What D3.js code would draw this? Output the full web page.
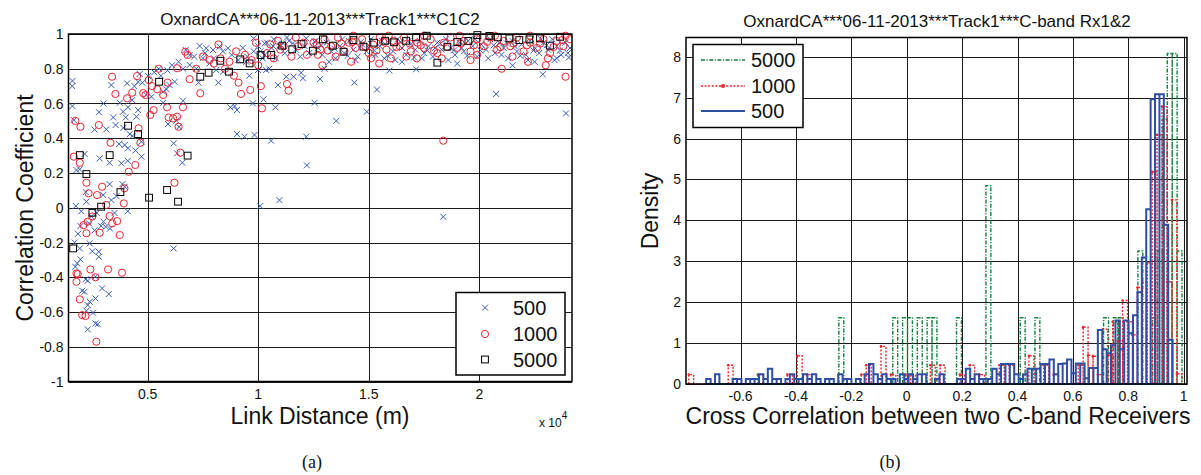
<!DOCTYPE html>
<html>
<head>
<meta charset="utf-8">
<script src="https://cdn.jsdelivr.net/npm/d3@7"></script>
<style>
  body { margin: 0; background: #fff; }
  svg { display: block; }
  text { font-family: "Liberation Sans", Arial, sans-serif; fill: #111; }
</style>
</head>
<body>
<svg id="fig" width="1201" height="475"></svg>
<script>
'use strict';

// ---- panel (a) data: [link distance (m), correlation coefficient]
var corr500 = [
  [1600,0.73],[1590,0.70],[1600,0.585],[1660,0.505],[1780,0.217],[1930,0.221],[1750,0.01],[2230,0.035],
  [1960,-0.105],[2350,-0.09],[2600,-0.13],[2900,-0.105],[3100,-0.11],[1930,-0.234],[1810,-0.32],[1730,-0.34],
  [1960,-0.297],[2380,-0.205],[2790,-0.253],[2790,-0.282],[2190,-0.412],[2290,-0.42],[2640,-0.397],[2040,-0.478],
  [2140,-0.484],[2940,-0.464],[3240,-0.497],[2640,-0.522],[2380,-0.541],[2290,-0.56],[2230,-0.593],[2530,-0.604],
  [2640,-0.666],[2740,-0.67],[2290,-0.70],[6175,-0.234],
  [3130,0.451],[2830,0.284],[3280,0.259],[3360,0.706],[3440,0.52],[3550,0.476],[3740,0.604],[3710,0.367],
  [3890,0.553],[4010,0.52],[4110,0.578],[4070,0.716],[3960,0.361],[4110,0.342],[3810,0.256],[3280,0.136],
  [2990,0.073],[3360,0.044],[3860,0.136],[3960,0.121],[3590,0.067],[4190,0.424],[4310,0.413],[4570,0.562],
  [4490,0.524],[4720,0.294],[4720,0.38],[4570,0.725],[4760,0.72],[4940,0.649],[5170,0.639],[4640,0.77],[5020,0.758],
  [2000,-0.02],[2450,-0.05],[2700,-0.03],[3000,-0.08],[2200,0.09],[3500,-0.03],[1700,-0.2],[1850,-0.15],
  [2500,-0.25],[3300,-0.12],[4100,-0.02],[2150,0.31],[2800,0.55],[3000,0.6],[2600,0.45],[3900,0.46],
  [4300,0.62],[4400,0.7],[4450,0.33],[4100,0.27],
  [5700,0.668],[5850,0.682],[5700,0.604],[5920,0.482],[6300,0.501],[6420,0.466],[6175,0.371],[6330,0.313],
  [6570,0.259],[6600,0.616],[6220,0.725],[5990,0.706],[6900,0.822],[6720,0.908],[6900,0.879],[7350,0.931],
  [7650,0.918],[7960,0.908],[8250,0.927],[8630,0.918],[7500,0.86],[7800,0.831],[8100,0.793],[8410,0.783],
  [8740,0.578],[8930,0.585],[9040,0.562],[9040,0.424],[9380,0.409],[9830,0.419],[9760,0.601],[10240,0.624],
  [10780,0.578],[10580,0.386],[10090,0.01],[10960,0.044],[12170,0.409],[12200,0.244],[12550,0.604],
  [5300,0.78],[5500,0.8],[5600,0.76],[5900,0.79],[6100,0.82],[6400,0.84],[6600,0.80],[7100,0.87],
  [7200,0.80],[7600,0.89],[8000,0.86],[8400,0.90],[8800,0.88],[9100,0.85],[9300,0.92],[9500,0.87],
  [9800,0.90],[10200,0.86],[7300,0.72],[8200,0.72],[9600,0.76],[10500,0.80],[10000,0.93],[10400,0.95],
  [9790,0.975],[10290,0.946],[10665,0.931],[11120,0.946],[11570,0.946],[12170,0.975],[12545,0.956],
  [10890,0.706],[11270,0.754],[11600,0.754],[12020,0.745],[11940,0.777],[10360,0.793],[9990,0.793],[9460,0.84],
  [12800,0.741],[14350,0.72],[15370,0.68],[14910,0.553],[13530,0.5],[15930,0.79],[17140,0.797],[20760,0.655],
  [22870,0.768],[23920,0.543],[18370,-0.052],[21500,0.82],[19000,0.83],[16500,0.84],[13000,0.80],[22500,0.84],
  [23500,0.86],
  [12700,0.92],[12900,0.88],[13100,0.95],[13300,0.90],[13500,0.86],[13700,0.93],[13900,0.89],[14100,0.96],
  [14300,0.91],[14500,0.87],[14700,0.94],[14900,0.90],[15100,0.97],[15300,0.88],[15500,0.93],[15700,0.86],
  [15900,0.95],[16100,0.90],[16300,0.97],[16500,0.92],[16700,0.88],[16900,0.94],[17100,0.91],[17300,0.96],
  [17500,0.89],[17700,0.93],[17900,0.87],[18100,0.95],[18300,0.91],[18500,0.97],[18700,0.92],[18900,0.88],
  [19100,0.95],[19300,0.90],[19500,0.96],[19700,0.93],[19900,0.87],[20100,0.94],[20300,0.91],[20500,0.97],
  [20700,0.89],[20900,0.95],[21100,0.92],[21300,0.86],[21500,0.96],[21700,0.90],[21900,0.94],[22100,0.88],
  [22300,0.96],[22500,0.92],[22700,0.89],[22900,0.95],[23100,0.91],[23300,0.97],[23500,0.93],[23700,0.88],
  [23900,0.95],[24100,0.92],
  [12600,0.96],[13200,0.84],[13800,0.97],[14400,0.85],[15000,0.92],[15600,0.96],[16200,0.85],[16800,0.96],
  [17400,0.86],[18000,0.92],[18600,0.85],[19200,0.92],[19800,0.97],[20400,0.86],[21000,0.88],[21600,0.93],
  [22200,0.85],[22800,0.97],[23400,0.85],[24000,0.89],
  [10100,0.90],[10300,0.88],[10600,0.92],[10800,0.86],[11000,0.93],[11200,0.89],[11400,0.96],[11700,0.91],
  [11900,0.87],[12100,0.93],[12300,0.89],[10700,0.97],[11300,0.98],
  [12850,0.935],[13450,0.915],[14050,0.875],[14650,0.955],[15250,0.905],[15850,0.875],[16450,0.955],[17050,0.865],
  [17650,0.905],[18250,0.945],[18850,0.905],[19450,0.875],[20050,0.905],[20650,0.935],[21250,0.945],[21850,0.875],
  [22450,0.905],[23050,0.935],[23650,0.905],[24050,0.865]
];

var corr1000 = [
  [1660,0.294],[1730,0.50],[1960,0.466],[1930,0.259],[2230,0.144],[2330,0.083],[2290,-0.08],[2790,0.476],
  [2710,0.073],[2940,0.121],[3130,0.016],[3280,-0.048],[3320,0.374],[3390,0.754],[3540,0.655],[3620,-0.077],
  [3950,0.112],[3920,0.025],[4070,0.63],[4140,0.207],[4440,0.246],[4300,0.662],[4520,0.758],[4590,0.457],
  [4670,0.374],[4900,0.649],[5050,0.735],[5120,0.534],[5270,0.562],[5430,0.682],[5700,0.649],[5880,0.578],
  [5950,0.52],[6150,0.515],[6330,0.524],[6400,0.466],[6600,0.578],[6480,0.317],[6210,0.144],[6330,0.803],
  [6700,0.898],[6810,0.879],[7380,0.659],
  [2230,-0.147],[2830,-0.144],[3740,-0.157],[2410,-0.355],[3210,-0.355],[3840,-0.374],[2640,-0.40],
  [1780,-0.378],[1840,-0.382],[1780,-0.426],[1930,-0.527],[2040,-0.618],[2190,-0.623],[2680,-0.771],
  [2100,-0.10],[2500,-0.05],[3400,-0.09],
  [7500,0.87],[7800,0.85],[8000,0.83],[8300,0.86],[8500,0.80],[8700,0.84],[8900,0.76],[9110,0.72],
  [9220,0.655],[9640,0.678],[10120,0.70],[10170,0.572],[11300,0.712],[11370,0.674],[9000,0.90],[9400,0.88],
  [9700,0.85],[10000,0.82],[10400,0.89],[10700,0.86],[11000,0.91],[11500,0.87],[11800,0.93],[12200,0.88],
  [7200,0.80],[6900,0.74],[5900,0.72],[5500,0.80],[5200,0.70],[4800,0.66],[8200,0.94],[9900,0.95],
  [10900,0.96],[11700,0.98],
  [21010,0.80],[23900,0.754],[17170,0.86],[15470,0.83],[18370,0.386],[12900,0.82],[14200,0.84],[16000,0.86],
  [19600,0.85],[22200,0.84],[23000,0.82],
  [12500,0.95],[12800,0.91],[13000,0.97],[13300,0.93],[13600,0.98],[13900,0.90],[14100,0.95],[14400,0.92],
  [14700,0.97],[15000,0.89],[15200,0.94],[15500,0.98],[15800,0.91],[16100,0.96],[16400,0.93],[16600,0.98],
  [16900,0.90],[17200,0.95],[17500,0.92],[17800,0.97],[18100,0.89],[18400,0.95],[18700,0.98],[19000,0.92],
  [19300,0.96],[19600,0.90],[19900,0.97],[20200,0.93],[20500,0.98],[20800,0.91],[21100,0.96],[21400,0.93],
  [21700,0.98],[22000,0.90],[22300,0.95],[22600,0.92],[22900,0.97],[23200,0.89],[23500,0.96],[23800,0.93],
  [24100,0.97],
  [12700,0.88],[13500,0.87],[14300,0.99],[15100,0.86],[15900,0.99],[16700,0.87],[17500,0.99],[18300,0.86],
  [19100,0.99],[19900,0.88],[20700,0.99],[21500,0.87],[22300,0.99],[23100,0.86],[23900,0.99],
  [12650,0.935],[13150,0.905],[13750,0.945],[14250,0.955],[14850,0.925],[15350,0.905],[15650,0.955],[16250,0.925],
  [16850,0.945],[17350,0.935],[17950,0.905],[18550,0.925],[19150,0.945],[19750,0.935],[20350,0.955],[20950,0.925],
  [21550,0.945],[22150,0.935],[22750,0.945],[23350,0.925],[23750,0.965],[10550,0.94],[11150,0.93],[12050,0.95]
];

var corr5000 = [
  [1630,-0.234],[1930,0.303],[2230,0.194],[2500,-0.029],[2895,0.006],[3283,0.303],[3767,0.09],[4114,0.472],
  [4566,0.424],[5063,0.058],[5877,0.102],[6373,0.035],[6807,0.30],[5515,0.725],[7381,0.754],[7756,0.777],
  [8678,0.783],[8285,0.846],[9188,0.854],[9609,0.831],[10106,0.879],[10589,0.879],[11086,0.933],[11538,0.912],
  [11958,0.942],[12473,0.904],[12925,0.969],[13377,0.933],[13856,0.898],[14307,0.965],[14759,0.927],[15243,0.95],
  [15740,0.961],[16146,0.952],[16688,0.961],[17140,0.981],[17623,0.99],[18102,0.835],[18554,0.927],[19006,0.954],
  [19503,0.96],[19910,0.994],[20452,0.989],[20832,0.981],[21356,0.975],[21808,0.965],[22260,0.969],[22744,0.975],
  [23194,0.933],[23648,0.984]
];

var distTicks = [5000, 10000, 15000, 20000];
var distTickLabels = ['0.5', '1', '1.5', '2'];
var corrTicks = [-1, -0.8, -0.6, -0.4, -0.2, 0, 0.2, 0.4, 0.6, 0.8, 1];

// ---- panel (b) data: histogram densities, one value per bin
var bins500 = { start: -0.724, width: 0.015888 };
var density500 = [
  0.12,0,0.24,0,0,0,0.12,0.12,0,0.12,
  0.12,0.12,0.24,0.12,0.37,0.12,0.12,0,0.12,0.24,
  0.12,0.12,0.24,0.12,0.24,0.12,0,0.12,0.12,0,
  0.24,0.12,0.12,0,0.12,0,0.24,0.49,0.24,0.12,
  0.24,0.12,0.12,0,0.24,0.12,0.24,0.12,0.24,0.24,
  0,0,0.12,0.24,0,0,0,0.12,0.12,0.37,
  0.12,0.24,0.12,0.12,0.12,0.37,0.24,0.49,0.49,0.49,
  0.24,0.12,0.24,0.37,0.37,0.37,0.49,0.49,0.6,0.24,
  0.49,0.5,0.6,0.26,0.5,0.5,0.14,0.39,0.39,1.32,
  0.85,0.75,0.95,1.55,0.85,1.55,1.24,1.68,2.24,3.09,
  4.27,6.96,7.08,7.08,3.89,1.08,0
];

var bins1000 = { start: -0.787, width: 0.0178 };
var density1000 = [
  0.23,0,0,0,0,0,0,0,0.46,0,
  0,0,0,0,0.23,0,0,0,0,0,
  0.23,0,0.69,0,0.23,0,0,0,0,0,
  0,0,0,0,0,0.23,0.46,0,0,0.92,
  0,0.23,0,0,0.23,0.23,0,0,0,0.46,
  0,0.46,0,0,0,0.23,0,0.46,0,0.23,
  0,0,0,0.46,0,0.46,0,0,0,0.69,
  0,0,0.46,0,0.23,0,0,0,0,0.46,
  1.39,0.7,0.68,0.23,1.34,0.7,1.52,1.05,2.04,1.52,
  1.2,2.36,2.48,2.96,5.19,6.09,6.78,2.5,4.5,0.25
];

var bins5000 = { start: -0.245, width: 0.0177 };
var density5000 = [
  1.62,0,0,0,0,0,0,0,0,0,
  0,1.62,0,1.62,1.62,0,1.62,0,1.62,1.62,
  0,0,0,0,1.62,0,0,0,0,0,
  4.85,0,0,0,0,0,0,1.62,0,0,
  1.62,0,0,0,0,0,0,0,0,0,
  0,0,0,0,1.62,0,1.62,1.62,0,0,
  0,3.25,0,0,1.62,3.25,6.47,8.08,8.08,3.25
];

var ccTicks = [-0.6, -0.4, -0.2, 0, 0.2, 0.4, 0.6, 0.8, 1];
var densityTicks = [0, 1, 2, 3, 4, 5, 6, 7, 8];

// ---- drawing
var svg = d3.select('#fig');
var gridColor = '#1a1a1a';
var fmt = function(d) { return String(d); };

function drawFrame(g, x, y, xTicks, yTicks, xLabels) {
  var x0 = x.range()[0], x1 = x.range()[1];
  var y0 = y.range()[0], y1 = y.range()[1];
  // grid lines
  g.append('g').selectAll('line.gx').data(xTicks).enter().append('line')
    .attr('x1', function(d) { return Math.round(x(d)) + 0.5; })
    .attr('x2', function(d) { return Math.round(x(d)) + 0.5; })
    .attr('y1', y0).attr('y2', y1)
    .attr('stroke', gridColor).attr('stroke-width', 1);
  g.append('g').selectAll('line.gy').data(yTicks).enter().append('line')
    .attr('y1', function(d) { return Math.round(y(d)) + 0.5; })
    .attr('y2', function(d) { return Math.round(y(d)) + 0.5; })
    .attr('x1', x0).attr('x2', x1)
    .attr('stroke', gridColor).attr('stroke-width', 1);
  // tick labels
  g.append('g').selectAll('text').data(xTicks).enter().append('text')
    .attr('x', function(d) { return x(d); })
    .attr('y', y0 + 17)
    .attr('text-anchor', 'middle')
    .style('font-size', '14px')
    .text(function(d, i) { return xLabels ? xLabels[i] : fmt(d); });
  g.append('g').selectAll('text').data(yTicks).enter().append('text')
    .attr('x', x0 - 5)
    .attr('y', function(d) { return y(d) + 5; })
    .attr('text-anchor', 'end')
    .style('font-size', '14px')
    .text(fmt);
}

function drawBox(g, x, y) {
  g.append('rect')
    .attr('x', x.range()[0]).attr('y', y.range()[1])
    .attr('width', x.range()[1] - x.range()[0])
    .attr('height', y.range()[0] - y.range()[1])
    .attr('fill', 'none').attr('stroke', '#000').attr('stroke-width', 1.5);
}

// ================= panel (a)
var ga = svg.append('g');
var xA = d3.scaleLinear().domain([1420, 24190]).range([68.5, 572]);
var yA = d3.scaleLinear().domain([-1, 1]).range([381.5, 34]);

drawFrame(ga, xA, yA, distTicks, corrTicks, distTickLabels);

ga.append('clipPath').attr('id', 'clipA').append('rect')
  .attr('x', 68.5).attr('y', 30).attr('width', 503.5).attr('height', 352);
var plotA = ga.append('g').attr('clip-path', 'url(#clipA)');

var blue = '#3a5bb4', red = '#ee2530';

plotA.append('g').selectAll('path').data(corr500).enter().append('path')
  .attr('transform', function(d) { return 'translate(' + xA(d[0]) + ',' + yA(d[1]) + ')'; })
  .attr('d', 'M-3,-3L3,3M-3,3L3,-3')
  .attr('stroke', blue).attr('stroke-width', 1).attr('fill', 'none');

plotA.append('g').selectAll('circle').data(corr1000).enter().append('circle')
  .attr('cx', function(d) { return xA(d[0]); })
  .attr('cy', function(d) { return yA(d[1]); })
  .attr('r', 3.6)
  .attr('stroke', red).attr('stroke-width', 1).attr('fill', 'none');

plotA.append('g').selectAll('rect').data(corr5000).enter().append('rect')
  .attr('x', function(d) { return xA(d[0]) - 3.4; })
  .attr('y', function(d) { return yA(d[1]) - 3.4; })
  .attr('width', 6.8).attr('height', 6.8)
  .attr('stroke', '#000').attr('stroke-width', 1).attr('fill', 'none');

drawBox(ga, xA, yA);

ga.append('text').attr('x', 320).attr('y', 25).attr('text-anchor', 'middle')
  .style('font-size', '17px').text('OxnardCA***06-11-2013***Track1***C1C2');
ga.append('text').attr('x', 320).attr('y', 424).attr('text-anchor', 'middle')
  .style('font-size', '23px').text('Link Distance (m)');
ga.append('text').attr('transform', 'translate(33,208) rotate(-90)').attr('text-anchor', 'middle')
  .style('font-size', '23px').text('Correlation Coefficient');
var expo = ga.append('text').attr('x', 539).attr('y', 427).style('font-size', '12px');
expo.append('tspan').text('x 10');
expo.append('tspan').attr('dy', -8).style('font-size', '10px').text('4');

// legend (a)
var legA = ga.append('g');
legA.append('rect').attr('x', 456).attr('y', 292.5).attr('width', 109).attr('height', 82.5)
  .attr('fill', '#fff').attr('stroke', '#000').attr('stroke-width', 1.5);
var legARows = [
  { label: '500', y: 307.7 },
  { label: '1000', y: 334 },
  { label: '5000', y: 359.5 }
];
legA.append('path').attr('transform', 'translate(485,' + legARows[0].y + ')')
  .attr('d', 'M-3,-3L3,3M-3,3L3,-3').attr('stroke', blue).attr('fill', 'none');
legA.append('circle').attr('cx', 485).attr('cy', legARows[1].y).attr('r', 3.6)
  .attr('stroke', red).attr('fill', 'none');
legA.append('rect').attr('x', 485 - 3.4).attr('y', legARows[2].y - 3.4).attr('width', 6.8).attr('height', 6.8)
  .attr('stroke', '#000').attr('fill', 'none');
legA.selectAll('text').data(legARows).enter().append('text')
  .attr('x', 513).attr('y', function(d) { return d.y + 7; })
  .style('font-size', '20px').text(function(d) { return d.label; });

svg.append('text').attr('x', 312).attr('y', 468).attr('text-anchor', 'middle')
  .style('font-family', '"Liberation Serif", "Times New Roman", serif').style('font-size', '18px')
  .text('(a)');

// ================= panel (b)
var gb = svg.append('g');
var xB = d3.scaleLinear().domain([-0.797, 1.012]).range([686, 1187]);
var yB = d3.scaleLinear().domain([0, 8.47]).range([384, 37.5]);

drawFrame(gb, xB, yB, ccTicks, densityTicks, null);

function histPath(bins, vals) {
  var base = yB(0);
  var p = '';
  vals.forEach(function(v, i) {
    var a = xB(bins.start + i * bins.width), b = xB(bins.start + (i + 1) * bins.width);
    if (v > 0) p += 'M' + a + ',' + base + 'V' + yB(v) + 'H' + b + 'V' + base;
  });
  p += 'M' + xB(bins.start) + ',' + base + 'H' + xB(bins.start + vals.length * bins.width);
  return p;
}

var green = '#13803c', histBlue = '#2f4fa6', histRed = '#f0242c';

gb.append('path').attr('d', histPath(bins5000, density5000))
  .attr('fill', 'none').attr('stroke', green).attr('stroke-width', 1.4)
  .attr('stroke-dasharray', '4,1.5,1.2,1.5');
gb.append('path').attr('d', histPath(bins1000, density1000))
  .attr('fill', 'none').attr('stroke', histRed).attr('stroke-width', 1.4)
  .attr('stroke-dasharray', '2,1.6');
gb.append('g').selectAll('circle').data(density1000.map(function(v, i) { return [i, v]; })
    .filter(function(d) { return d[1] > 0; }))
  .enter().append('circle')
  .attr('cx', function(d) { return xB(bins1000.start + d[0] * bins1000.width); })
  .attr('cy', function(d) { return yB(d[1]); })
  .attr('r', 1.3).attr('fill', histRed);
gb.append('path').attr('d', histPath(bins500, density500))
  .attr('fill', 'none').attr('stroke', histBlue).attr('stroke-width', 2);

drawBox(gb, xB, yB);

gb.append('text').attr('x', 937).attr('y', 26.5).attr('text-anchor', 'middle')
  .style('font-size', '17px').text('OxnardCA***06-11-2013***Track1***C-band Rx1&2');
gb.append('text').attr('x', 938).attr('y', 424).attr('text-anchor', 'middle')
  .style('font-size', '23px').text('Cross Correlation between two C-band Receivers');
gb.append('text').attr('transform', 'translate(658,211) rotate(-90)').attr('text-anchor', 'middle')
  .style('font-size', '23px').text('Density');

// legend (b)
var legB = gb.append('g');
legB.append('rect').attr('x', 693).attr('y', 44.5).attr('width', 110).attr('height', 83)
  .attr('fill', '#fff').attr('stroke', '#000').attr('stroke-width', 1.5);
var legBRows = [
  { label: '5000', y: 60, color: green, dash: '4,1.5,1.2,1.5', w: 1.4 },
  { label: '1000', y: 86, color: histRed, dash: '2,1.6', w: 1.4 },
  { label: '500', y: 111, color: histBlue, dash: null, w: 2 }
];
legB.selectAll('line').data(legBRows).enter().append('line')
  .attr('x1', 701).attr('x2', 745)
  .attr('y1', function(d) { return d.y; }).attr('y2', function(d) { return d.y; })
  .attr('stroke', function(d) { return d.color; })
  .attr('stroke-width', function(d) { return d.w; })
  .attr('stroke-dasharray', function(d) { return d.dash; });
legB.append('circle').attr('cx', 723).attr('cy', 86).attr('r', 2).attr('fill', histRed);
legB.selectAll('text').data(legBRows).enter().append('text')
  .attr('x', 751).attr('y', function(d) { return d.y + 7; })
  .style('font-size', '20px').text(function(d) { return d.label; });

svg.append('text').attr('x', 890).attr('y', 468).attr('text-anchor', 'middle')
  .style('font-family', '"Liberation Serif", "Times New Roman", serif').style('font-size', '18px')
  .text('(b)');
</script>
</body>
</html>
